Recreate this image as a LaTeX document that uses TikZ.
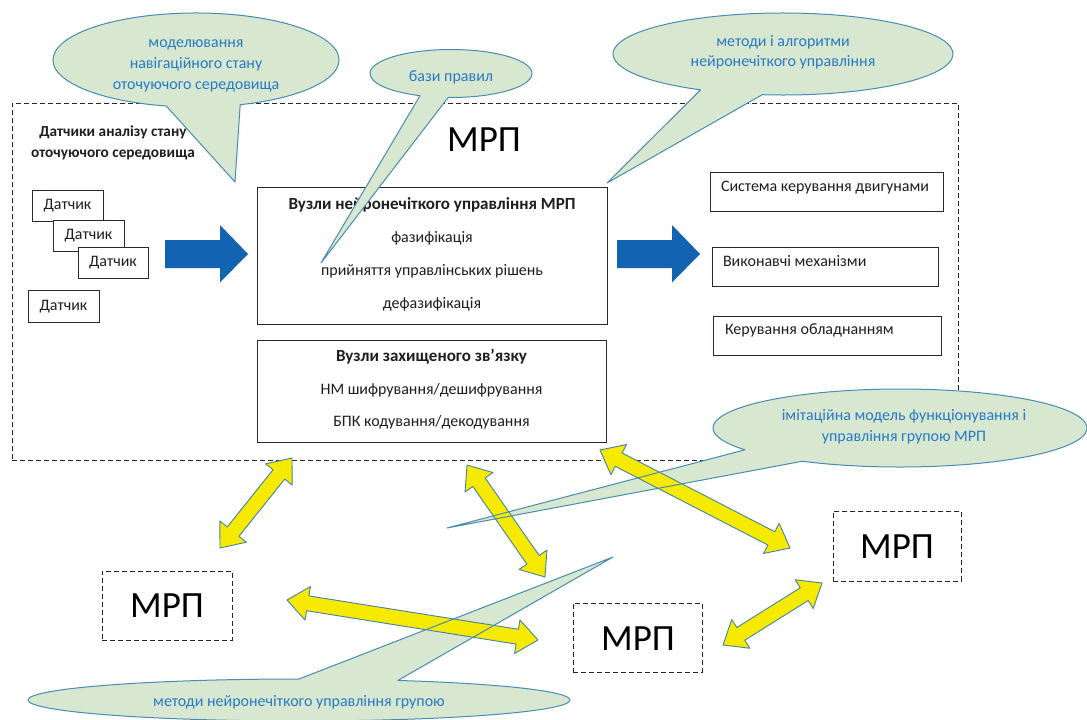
\documentclass[tikz,border=0pt]{standalone}
\usepackage{fontspec}
\setmainfont{Carlito}
\usetikzlibrary{calc}
\definecolor{bubfill}{RGB}{216,232,208}
\definecolor{bubline}{RGB}{70,140,180}
\definecolor{bubtext}{RGB}{40,122,196}
\definecolor{arrblue}{RGB}{18,100,178}
\definecolor{arryel}{RGB}{245,234,0}
\definecolor{arrline}{RGB}{70,130,165}
\definecolor{boxline}{RGB}{55,35,35}
\definecolor{txtcol}{RGB}{30,30,30}

\newcommand\bubfillpath[6]{\fill[bubfill] (#2) -- ($(#1)+(#3:#5 and #6)$) arc[start angle=#3,end angle=#4,x radius=#5,y radius=#6] -- cycle;}
\newcommand\bubdrawpath[6]{\draw[bubline,line width=1pt,line join=round] (#2) -- ($(#1)+(#3:#5 and #6)$) arc[start angle=#3,end angle=#4,x radius=#5,y radius=#6] -- cycle;}
\newcommand\yarrow[3]{%
  \coordinate (#1h1) at ($(#2)!21pt!(#3)$);
  \coordinate (#1h2) at ($(#3)!21pt!(#2)$);
  \draw[yarr] (#2) -- ($(#1h1)!17pt!90:(#3)$) -- ($(#1h1)!7.5pt!90:(#3)$) -- ($(#1h2)!7.5pt!-90:(#2)$) -- ($(#1h2)!17pt!-90:(#2)$) -- (#3) -- ($(#1h2)!17pt!90:(#2)$) -- ($(#1h2)!7.5pt!90:(#2)$) -- ($(#1h1)!7.5pt!-90:(#3)$) -- ($(#1h1)!17pt!-90:(#3)$) -- cycle;}

\begin{document}
\begin{tikzpicture}[x=1pt,y=1pt,
  every node/.style={inner sep=0pt,outer sep=0pt},
  t/.style={font=\fontsize{16}{20}\selectfont,text=txtcol,text height=11.5pt,text depth=3.2pt},
  tb/.style={t,font=\fontsize{17}{21}\selectfont\bfseries},
  big/.style={font=\fontsize{37}{40}\selectfont,text=black},
  frame/.style={draw=boxline,line width=0.9pt,fill=white},
  sbox/.style={frame,t,minimum width=71,minimum height=31},
  dframe/.style={draw=black!85,line width=0.9pt,dash pattern=on 5pt off 3pt},
  btext/.style={font=\fontsize{16}{21}\selectfont,text=bubtext,align=center},
  yarr/.style={fill=arryel,draw=arrline,line width=0.9pt,line join=round}]

\useasboundingbox (0,0) rectangle (1087,-720);
\fill[white] (0,0) rectangle (1087,-720);

% main frame
\node[dframe,minimum width=946,minimum height=357] (mrp) at (485,-281.5) {};
\node[big] (mrpt) at (484,-140) {МРП};
\node[font=\fontsize{15.3}{21}\selectfont\bfseries,text=txtcol,align=center] (senst) at (113,-143) {Датчики аналізу стану\\оточуючого середовища};

% sensors
\node[sbox] (s1) at (67.5,-205.5) {Датчик};
\node[sbox] (s2) at (88.5,-235.5) {Датчик};
\node[sbox,minimum width=70] (s3) at (113,-262.5) {Датчик};
\node[sbox,minimum height=32] (s4) at (63.5,-306) {Датчик};

% fuzzy control box
\node[frame,minimum width=350,minimum height=137] (fz) at (432,-255.5) {};
\node[tb] (fz0) at (432,-205) {Вузли нейронечіткого управління МРП};
\node[t] (fz1) at (432,-238) {фазифікація};
\node[t] (fz2) at (432,-271) {прийняття управлінських рішень};
\node[t] (fz3) at (432,-304) {дефазифікація};

% secure link box
\node[frame,minimum width=349,minimum height=102] (sc) at (431.5,-391) {};
\node[tb] (sc0) at (431.5,-357) {Вузли захищеного зв’язку};
\node[t] (sc1) at (431.5,-390) {НМ шифрування/дешифрування};
\node[t] (sc2) at (431.5,-422) {БПК кодування/декодування};

% right boxes
\node[frame,minimum width=233,minimum height=39] (r1) at (826.5,-191.5) {};
\node[t,anchor=west] (r1t) at (721,-187) {Система керування двигунами};
\node[frame,minimum width=226,minimum height=39] (r2) at (825,-266.5) {};
\node[t,anchor=west] (r2t) at (723,-262) {Виконавчі механізми};
\node[frame,minimum width=228,minimum height=39] (r3) at (827,-335.5) {};
\node[t,anchor=west] (r3t) at (725,-330) {Керування обладнанням};

% other robots
\node[dframe,minimum width=130,minimum height=69] (m1) at (167,-605.5) {};
\node[big] (m1t) at (167,-606) {МРП};
\node[dframe,minimum width=129,minimum height=69] (m2) at (637.5,-637.5) {};
\node[big] (m2t) at (638,-639) {МРП};
\node[dframe,minimum width=128,minimum height=70] (m3) at (897,-546) {};
\node[big] (m3t) at (897,-547) {МРП};

% blue arrows
\coordinate (ba1) at (165,-254);
\coordinate (ba2) at (617,-254);
\fill[arrblue] (ba1) ++(0,14) -- ++(55,0) -- ++(0,15) -- ++(28,-29) -- ++(-28,-28.5) -- ++(0,14.5) -- ++(-55,0) -- cycle;
\fill[arrblue] (ba2) ++(0,14) -- ++(55,0) -- ++(0,15) -- ++(28,-29) -- ++(-28,-28.5) -- ++(0,14.5) -- ++(-55,0) -- cycle;

% callout geometry
\coordinate (b1c) at (196,-60);   \coordinate (b1t) at (235,-182);
\coordinate (b2c) at (451,-73.5); \coordinate (b2t) at (321,-263);
\coordinate (b3c) at (783,-54);   \coordinate (b3t) at (607,-183);
\coordinate (b4c) at (900,-428);  \coordinate (b4t) at (447,-528);
\coordinate (b5c) at (299,-700);  \coordinate (b5t) at (613,-557);

\bubfillpath{b1c}{b1t}{288}{618}{143}{47}
\bubfillpath{b2c}{b2t}{268}{607.5}{81}{24}
\bubfillpath{b3c}{b3t}{263}{601}{170}{41}
\bubfillpath{b4c}{b4t}{238.5}{574}{187}{39}
\bubfillpath{b5c}{b5t}{90}{428.6}{271}{21}

% yellow double arrows
\coordinate (ya1) at (220,-548); \coordinate (ya2) at (292,-458);
\coordinate (yb1) at (287,-600); \coordinate (yb2) at (538,-640);
\coordinate (yc1) at (467,-465); \coordinate (yc2) at (545,-577);
\coordinate (yd1) at (600,-450); \coordinate (yd2) at (790,-548);
\coordinate (ye1) at (723,-645); \coordinate (ye2) at (822,-583);
\yarrow{a}{ya1}{ya2}
\yarrow{b}{yb1}{yb2}
\yarrow{c}{yc1}{yc2}
\yarrow{d}{yd1}{yd2}
\yarrow{e}{ye1}{ye2}

\bubdrawpath{b1c}{b1t}{288}{618}{143}{47}
\bubdrawpath{b2c}{b2t}{268}{607.5}{81}{24}
\bubdrawpath{b3c}{b3t}{263}{601}{170}{41}
\bubdrawpath{b4c}{b4t}{238.5}{574}{187}{39}
\bubdrawpath{b5c}{b5t}{90}{428.6}{271}{21}

\node[btext] (b1x) at (196,-66) {моделювання\\навігаційного стану\\оточуючого середовища};
\node[btext] (b2x) at (451,-77) {бази правил};
\node[btext,font=\fontsize{16}{20}\selectfont] (b3x) at (783,-52) {методи і алгоритми\\нейронечіткого управління};
\node[btext] (b4x) at (904,-426.5) {імітаційна модель функціонування і\\управління групою МРП};
\node[btext] (b5x) at (299,-702) {методи нейронечіткого управління групою};
\end{tikzpicture}
\end{document}
